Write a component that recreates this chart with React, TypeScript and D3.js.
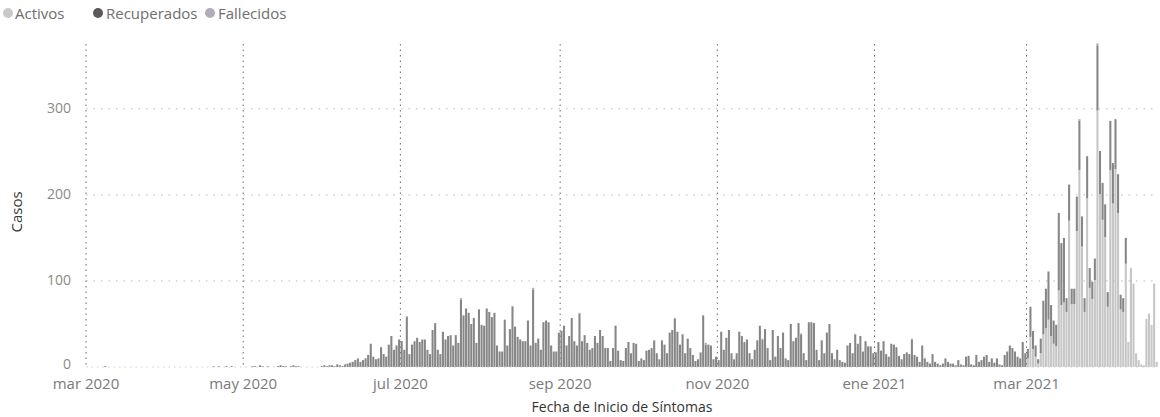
import React from "react";
import * as d3 from "d3";

// serie diaria desde 2020-03-01
const inicio = Date.UTC(2020, 2, 1);

const recuperados = [
  // mar - jun 2020
  0, 0, 0, 0, 0, 0, 0, 1, 0, 0,
  0, 0, 0, 0, 0, 0, 0, 0, 0, 0,
  0, 0, 0, 0, 0, 0, 0, 0, 0, 0,
  0, 0, 0, 0, 0, 0, 0, 0, 0, 0,
  0, 0, 0, 0, 0, 0, 0, 0, 0, 1,
  0, 1, 0, 0, 1, 0, 1, 0, 0, 0,
  0, 0, 0, 0, 1, 1, 0, 2, 1, 0,
  1, 0, 0, 0, 1, 2, 1, 1, 0, 1,
  2, 1, 1, 0, 0, 0, 0, 0, 0, 0,
  0, 1, 2, 1, 2, 2, 1, 3, 2, 1,
  3, 4,
  // jun - sep 2020
  5, 6, 8, 10, 6, 8, 10, 14, 27, 12,
  9, 10, 23, 15, 12, 26, 36, 20, 25, 32,
  30, 20, 58, 15, 26, 30, 34, 29, 32, 32,
  20, 15, 43, 51, 20, 15, 41, 32, 36, 37,
  25, 37, 28, 78, 60, 68, 63, 50, 57, 28,
  67, 49, 48, 68, 64, 58, 63, 25, 18, 18,
  55, 25, 44, 70, 47, 35, 32, 30, 30, 54,
  25, 90, 28, 33, 20, 52, 54, 52, 25, 18,
  18, 40, 42, 48, 25, 36, 57, 30, 25, 62,
  30, 37, 28, 20, 22, 36, 28,
  // sep - dic 2020
  43, 36, 22, 22, 7, 22, 48, 19, 8, 7,
  22, 29, 16, 28, 27, 7, 10, 8, 19, 20,
  22, 31, 16, 9, 31, 26, 16, 40, 43, 56,
  41, 26, 38, 16, 33, 22, 14, 7, 9, 17,
  60, 26, 26, 25, 9, 12, 8, 41, 20, 34,
  43, 16, 9, 16, 41, 36, 29, 32, 16, 9,
  20, 31, 48, 32, 44, 22, 8, 43, 12, 36,
  22, 40, 10, 8, 50, 30, 34, 51, 38, 16,
  8, 52, 52, 51, 20, 8, 31, 16, 40, 50,
  16, 9, 20, 8, 6, 5, 25, 28, 16, 38,
  27, 36, 18, 30, 24, 24, 16,
  // ene - feb 2021
  17, 29, 19, 30, 15, 12, 27, 26, 23, 13,
  9, 15, 17, 15, 32, 14, 12, 6, 25, 10,
  6, 4, 15, 6, 4, 2, 4, 10, 6, 4,
  4, 2, 8, 3, 2, 12, 13, 3, 2, 14,
  6, 8, 12, 14, 6,
  10, 5, 10, 3, 2, 14, 18, 25, 22, 18,
  12, 10, 29, 16,
  // mar - abr 2021
  11, 35, 21, 13, 5, 17, 39, 46, 56, 36,
  27, 25, 90, 72, 75,
  16, 42, 18, 18, 40, 57, 35, 16, 49, 23,
  20, 25, 75, 50, 43, 38, 17, 57, 47, 58,
  45, 17, 16, 30,
  0, 0, 0, 0, 0, 0, 0, 0, 0, 0,
  0, 0,
];

// activos desde 2021-03-01
const activosInicio = Date.UTC(2021, 2, 1);
const activos = [
  10, 35, 21, 12, 4, 16, 38, 45, 55, 36,
  27, 24, 89, 72, 75,
  64, 170, 73, 73, 158, 229, 140, 64, 196, 92,
  79, 101, 298, 201, 171, 151, 70, 229, 190, 230,
  179, 67, 64, 120,
  29, 115, 97, 16, 8, 3, 2, 56, 62, 49,
  97, 6,
];

const fallecidosFechas = [
  "2020-07-03", "2020-07-24", "2020-08-13", "2020-08-21", "2020-09-08",
  "2020-10-15", "2020-10-27", "2020-11-18", "2020-12-03", "2021-01-15",
  "2021-03-21", "2021-03-28",
];
const fallecidosValores = [1, 2, 1, 2, 1, 1, 2, 1, 1, 1, 2, 3];

const series = ["Activos", "Recuperados", "Fallecidos"];
const colores = ["#c6c6c6", "#868686", "#aaa3b0"];
const leyendaColores = ["#c9c9c9", "#5a5a5a", "#b3acb8"];

const tickFechas = [
  "2020-03-01", "2020-05-01", "2020-07-01", "2020-09-01",
  "2020-11-01", "2021-01-01", "2021-03-01",
];
const tickEtiquetas = [
  "mar 2020", "may 2020", "jul 2020", "sep 2020",
  "nov 2020", "ene 2021", "mar 2021",
];
const yTicks = [0, 100, 200, 300];

const DIA = 864e5;
const font = "'Open Sans', sans-serif";

export default function App() {
  const width = 1160;
  const height = 417;
  const left = 86;
  const right = 1158;
  const top = 40;
  const bottom = 367;

  const n = recuperados.length;
  const rows = recuperados.map((r, i) => {
    const t = inicio + i * DIA;
    const ai = Math.round((t - activosInicio) / DIA);
    return {
      fecha: new Date(t),
      Activos: ai >= 0 && ai < activos.length ? activos[ai] : 0,
      Recuperados: r,
      Fallecidos: 0,
    };
  });
  fallecidosFechas.forEach((f, k) => {
    const i = Math.round((Date.parse(f) - inicio) / DIA);
    if (rows[i]) rows[i].Fallecidos = fallecidosValores[k];
  });

  const x = d3
    .scaleUtc()
    .domain([new Date(inicio), new Date(inicio + n * DIA)])
    .range([left, right]);
  const y = d3.scaleLinear().domain([0, 380]).range([bottom, top]);

  const stacked = d3.stack<any>().keys(series)(rows);
  const bw = x(new Date(inicio + DIA)) - x(new Date(inicio));

  // posiciones de la leyenda
  const leyenda = [
    { cx: 8, tx: 15 },
    { cx: 98, tx: 106 },
    { cx: 210, tx: 218 },
  ];

  return (
    <svg
      width={width}
      height={height}
      style={{ position: "absolute", left: 0, top: 0, background: "#fff" }}
    >
      {leyenda.map((p, i) => (
        <g key={series[i]}>
          <circle cx={p.cx} cy={13} r={5} fill={leyendaColores[i]} />
          <text
            x={p.tx}
            y={18.5}
            fontSize={15}
            fontFamily={font}
            fill="#6e6e6e"
          >
            {series[i]}
          </text>
        </g>
      ))}

      {/* rejilla */}
      {yTicks.slice(1).map((v) => (
        <line
          key={v}
          x1={left}
          x2={right}
          y1={y(v)}
          y2={y(v)}
          stroke="#b8b8b8"
          strokeDasharray="1.5,6"
        />
      ))}
      {tickFechas.map((f) => (
        <line
          key={f}
          x1={x(new Date(f))}
          x2={x(new Date(f))}
          y1={top + 4}
          y2={bottom}
          stroke="#6a6a6a"
          strokeDasharray="1.5,4"
        />
      ))}

      {/* barras */}
      {stacked.map((s, si) => (
        <g key={s.key} fill={colores[si]}>
          {s.map((d, i) =>
            d[1] - d[0] > 0 ? (
              <rect
                key={i}
                x={x(d.data.fecha) + bw * 0.1}
                width={bw * 0.8}
                y={y(d[1])}
                height={y(d[0]) - y(d[1])}
              />
            ) : null
          )}
        </g>
      ))}
      <line x1={left} x2={right} y1={bottom} y2={bottom} stroke="#d0d0d0" strokeDasharray="1.5,4" />

      {/* ejes */}
      {yTicks.map((v) => (
        <text
          key={v}
          x={71}
          y={y(v) + (v === 0 ? 2 : 4)}
          textAnchor="end"
          fontSize={14}
          fontFamily={font}
          fill="#8a8a8a"
        >
          {v}
        </text>
      ))}
      {tickFechas.map((f, i) => (
        <text
          key={f}
          x={x(new Date(f))}
          y={389}
          textAnchor="middle"
          fontSize={15}
          fontFamily={font}
          fill="#7a7a7a"
        >
          {tickEtiquetas[i]}
        </text>
      ))}
      <text
        x={622}
        y={412}
        textAnchor="middle"
        fontSize={14}
        fontFamily={font}
        fill="#333"
      >
        Fecha de Inicio de Síntomas
      </text>
      <text
        transform={`translate(22,${212}) rotate(-90)`}
        textAnchor="middle"
        fontSize={15}
        fontFamily={font}
        fill="#3a3a3a"
      >
        Casos
      </text>
    </svg>
  );
}
